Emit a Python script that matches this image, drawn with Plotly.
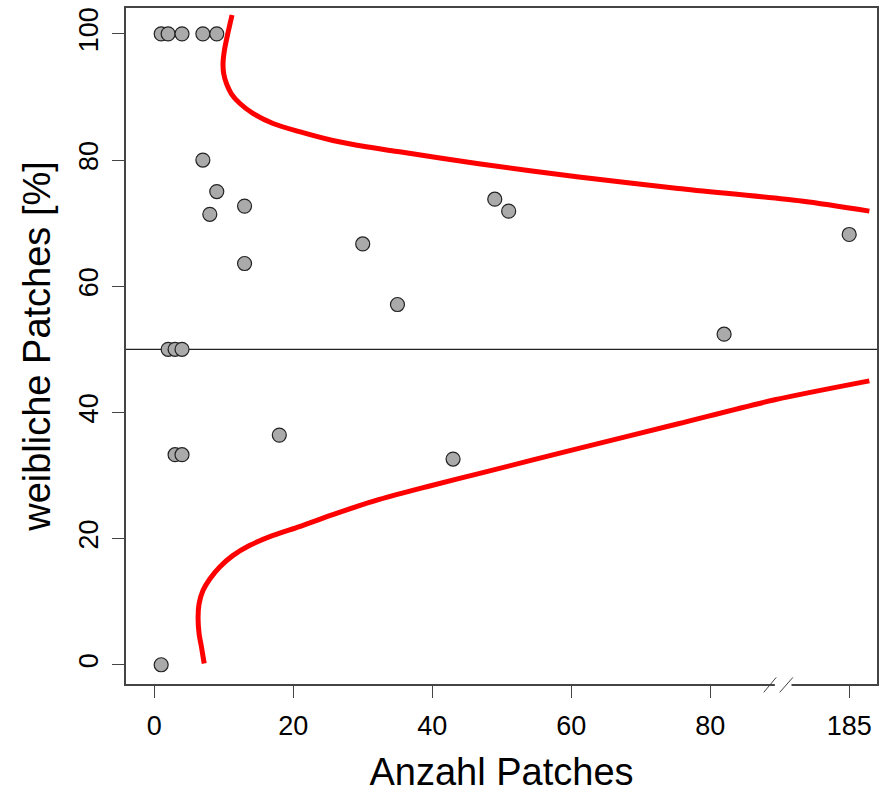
import plotly.graph_objects as go

# Patch counts and share of female patches per site
patch_counts = [1, 2, 4, 7, 9,
                7, 9, 8, 13, 13, 30, 35, 49, 51, 82, 185,
                2, 3, 4,
                3, 4, 18, 43,
                1]
female_pct = [100, 100, 100, 100, 100,
              80.0, 75.0, 71.4, 72.7, 63.6, 66.7, 57.1, 73.8, 71.9, 52.4, 68.2,
              50, 50, 50,
              33.3, 33.3, 36.4, 32.6,
              0]

# Confidence funnel around the 50 % line
upper_n = [11.2, 10.6, 10.1, 9.9, 10.0, 10.4, 11.1, 12.3, 14.2, 17.1, 20.9,
           25.7, 30.5, 35.3, 46.7, 61.1, 75.4, 178.1, 187.9]
upper_pct = [103.0, 100.1, 97.4, 95.3, 93.7, 92.1, 90.5, 89.0, 87.4, 85.8, 84.5,
             83.1, 82.1, 81.3, 79.4, 77.3, 75.5, 73.5, 71.9]
lower_n = [7.19, 6.80, 6.46, 6.31, 6.46, 7.03, 8.0, 9.43, 11.3, 13.7, 17.1, 20.9,
           25.7, 32.4, 39.5, 46.7, 61.1, 75.4, 89.3, 187.9]
lower_pct = [0.2, 2.8, 4.9, 7.5, 9.7, 11.8, 13.6, 15.5, 17.3, 18.9, 20.5, 21.9,
             23.8, 26.2, 28.3, 30.3, 34.3, 38.2, 42.0, 45.0]

x_tick_values = [0, 20, 40, 60, 80, 185]
reference_pct = 50

# Broken x axis: counts above the gap are shifted left
GAP_START = 90
GAP_SHIFT = 85


def axis_pos(n):
    return n if n <= GAP_START else n - GAP_SHIFT


fig = go.Figure()

for xs, ys in ((upper_n, upper_pct), (lower_n, lower_pct)):
    fig.add_trace(go.Scatter(
        x=[axis_pos(v) for v in xs], y=ys, mode="lines",
        line=dict(color="#ff0000", width=5, shape="spline", smoothing=0.8),
        hoverinfo="skip", showlegend=False))

fig.add_trace(go.Scatter(
    x=[axis_pos(v) for v in patch_counts], y=female_pct, mode="markers",
    marker=dict(size=14, color="#aaaaaa", line=dict(color="#222222", width=1.2)),
    showlegend=False))

fig.add_hline(y=reference_pct, line=dict(color="#222222", width=1.2), layer="below")

gap_mid = GAP_START + 0.5
shapes = [
    dict(type="rect", xref="x", yref="paper", x0=gap_mid - 1.2, x1=gap_mid + 1.2,
         y0=-0.006, y1=0.006, fillcolor="white", line=dict(width=0), layer="above"),
    dict(type="line", xref="x", yref="paper", x0=gap_mid - 2.8, x1=gap_mid - 1.0,
         y0=-0.0124, y1=0.0098, line=dict(color="#444444", width=1), layer="above"),
    dict(type="line", xref="x", yref="paper", x0=gap_mid - 0.5, x1=gap_mid + 1.4,
         y0=-0.0124, y1=0.0098, line=dict(color="#444444", width=1), layer="above"),
]
for s in shapes:
    fig.add_shape(**s)

font_family = "Liberation Sans, Arial, sans-serif"

fig.update_layout(
    width=881, height=793,
    margin=dict(l=126, r=2, t=8, b=109),
    paper_bgcolor="white", plot_bgcolor="white",
    font=dict(family=font_family, color="black"),
    xaxis=dict(
        range=[-4.06, 104.0],
        tickvals=[axis_pos(v) for v in x_tick_values],
        ticktext=[str(v) for v in x_tick_values],
        ticks="outside", ticklen=12, tickwidth=1.2, tickcolor="#444444",
        ticklabelstandoff=5,
        showline=True, linecolor="#444444", linewidth=1.5, mirror=True,
        showgrid=False, zeroline=False,
        tickfont=dict(size=27, family=font_family, color="black"),
        title=dict(text="Anzahl Patches", font=dict(size=38, family=font_family),
                   standoff=20),
    ),
    yaxis=dict(
        range=[-3.05, 104.1],
        tickvals=[0, 20, 40, 60, 80, 100],
        tickangle=-90,
        ticks="outside", ticklen=12, tickwidth=1.2, tickcolor="#444444",
        ticklabelstandoff=3,
        showline=True, linecolor="#444444", linewidth=1.5, mirror=True,
        showgrid=False, zeroline=False,
        tickfont=dict(size=27, family=font_family, color="black"),
        title=dict(text="weibliche Patches [%]", font=dict(size=38, family=font_family),
                   standoff=12),
    ),
)

fig.write_html("out.html")
